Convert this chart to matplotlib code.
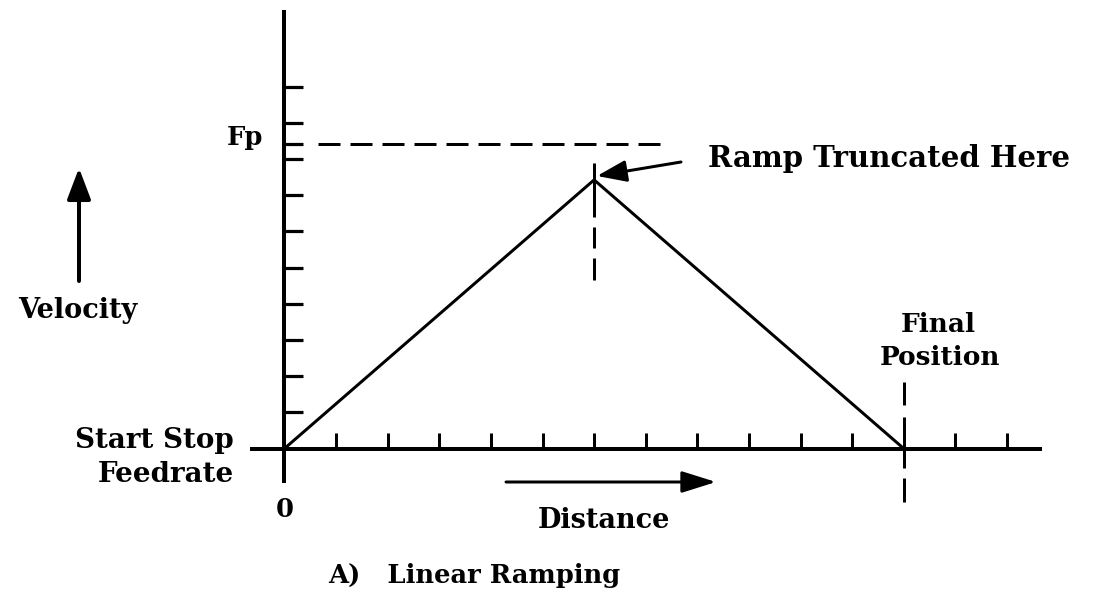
import numpy as np
import matplotlib
matplotlib.use("Agg")
import matplotlib.pyplot as plt

plt.rcParams['font.family'] = ['DejaVu Serif']
plt.rcParams['font.weight'] = 'bold'
plt.rcParams['lines.scale_dashes'] = False

# chart values (distance units = tick spacing, velocity units = tick spacing)
x_ticks = list(range(1, 15))
y_ticks = list(range(1, 11))
ramp_x = [0, 6, 12]
ramp_y = [0, 7.42, 0]
fp_level = 8.41
peak_x = 6
final_x = 12

# pixel layout helpers (figure 1097 x 599 px)
W, H = 1097, 599
X0, DX = 284.5, 51.6
Y0, DY = 448.5, 36.2


def X(px):
    return (px - X0) / DX


def Y(py):
    return (Y0 - py) / DY


fig = plt.figure(figsize=(W / 100, H / 100), dpi=100)
ax = fig.add_axes([0, 0, 1, 1])
ax.set_xlim(X(0), X(W))
ax.set_ylim(Y(H), Y(0))
ax.axis('off')

PT = 0.72  # points per pixel
k = 'black'

# axes lines
ax.plot([0, 0], [Y(483), Y(10)], color=k, lw=4 * PT, solid_capstyle='butt')
ax.plot([X(250), X(1042)], [0, 0], color=k, lw=4 * PT, solid_capstyle='butt')

# tick marks
ax.hlines(y_ticks + [fp_level], 0, X(303), color=k, lw=3.2 * PT)
ax.vlines(x_ticks, 0, 16 / DY, color=k, lw=3 * PT)

# ramp profile
ax.plot(ramp_x, ramp_y, color=k, lw=3 * PT, solid_joinstyle='miter')

# Fp dashed level
ax.plot([X(318), X(662)], [fp_level, fp_level], color=k, lw=3 * PT,
        linestyle=(0, (22 * PT, 10 * PT)))

# dashed vertical at peak
ax.plot([peak_x, peak_x], [Y(163), Y(280)], color=k, lw=3 * PT,
        linestyle=(0, (54 * PT, 10 * PT, 21 * PT, 10 * PT, 22 * PT, 200 * PT)))

# dashed vertical at final position
ax.plot([final_x, final_x], [Y(382), Y(502)], color=k, lw=3 * PT,
        linestyle=(0, (23 * PT, 12 * PT, 51 * PT, 10 * PT, 24 * PT, 200 * PT)))

# arrows
ax.annotate('', xy=(X(597), Y(176)), xytext=(X(681), Y(162)),
            arrowprops=dict(arrowstyle='-|>,head_length=0.9,head_width=0.33',
                            color=k, lw=3 * PT, shrinkA=0, shrinkB=0,
                            mutation_scale=20))
ax.annotate('', xy=(X(79), Y(168)), xytext=(X(79), Y(281)),
            arrowprops=dict(arrowstyle='-|>,head_length=0.95,head_width=0.36',
                            color=k, lw=4 * PT, shrinkA=0, shrinkB=0,
                            mutation_scale=20))
ax.annotate('', xy=(X(716), Y(482)), xytext=(X(506), Y(482)),
            arrowprops=dict(arrowstyle='-|>,head_length=1.05,head_width=0.33',
                            color=k, lw=3 * PT, shrinkA=0, shrinkB=0,
                            mutation_scale=20))

# labels
ax.text(X(263), Y(145), 'Fp', fontsize=18.5, ha='right', va='baseline')
ax.text(X(708), Y(167), 'Ramp Truncated Here', fontsize=21,
        ha='left', va='baseline')
ax.text(X(78), Y(318), 'Velocity', fontsize=19.5, ha='center', va='baseline')
ax.text(X(234), Y(448), 'Start Stop', fontsize=20, ha='right', va='baseline')
ax.text(X(234), Y(482), 'Feedrate', fontsize=20, ha='right', va='baseline')
ax.text(0, Y(517), '0', fontsize=18.5, ha='center', va='baseline')
ax.text(X(604), Y(528), 'Distance', fontsize=19.5, ha='center', va='baseline')
ax.text(X(938), Y(332), 'Final', fontsize=19, ha='center', va='baseline')
ax.text(X(940), Y(365), 'Position', fontsize=19, ha='center', va='baseline')
ax.text(X(328), Y(583), 'A)   Linear Ramping', fontsize=18.5, ha='left',
        va='baseline')

fig.savefig('out.png', dpi=100, facecolor='white')
